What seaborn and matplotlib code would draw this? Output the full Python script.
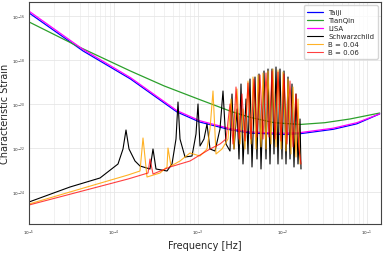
import matplotlib
matplotlib.use('Agg')
import matplotlib.pyplot as plt
import seaborn as sns
import numpy as np

# detector sensitivity curves, log10 values
taiji_logf = [-5.0, -4.36, -3.80, -3.25, -2.98, -2.62, -2.39, -2.0, -1.79, -1.4, -1.12, -0.85]
taiji_logh = [-15.86, -17.59, -18.86, -20.36, -20.82, -21.17, -21.32, -21.38, -21.35, -21.15, -20.9, -20.45]

tianqin_logf = [-5.0, -4.4, -3.80, -3.4, -2.98, -2.6, -2.39, -2.1, -1.79, -1.5, -1.2, -0.85]
tianqin_logh = [-16.27, -17.42, -18.5, -19.18, -19.8, -20.35, -20.6, -20.85, -20.93, -20.85, -20.68, -20.41]

lisa_logf = [-5.0, -4.36, -3.80, -3.25, -2.98, -2.62, -2.39, -2.0, -1.79, -1.4, -1.12, -0.85]
lisa_logh = [-15.78, -17.52, -18.8, -20.3, -20.76, -21.12, -21.27, -21.33, -21.3, -21.1, -20.85, -20.45]

# waveforms, read in pixel units of the reference (x: frequency, y: strain)
schw_x = [29, 70, 100, 118, 123, 126, 129, 135, 140, 150, 153, 156, 167, 172, 176, 178, 180,
          185, 192, 196, 198, 200, 204, 207, 210, 215, 220, 223, 226, 230, 232, 234, 237, 239,
          241, 243, 246, 248, 250, 252, 255, 257, 259, 261, 264, 266, 268, 270, 272, 274, 276,
          278, 280, 282, 284, 286, 288, 290, 292, 294, 296, 298, 300, 301]
schw_y = [203, 188, 179, 165, 150, 131, 150, 162, 167, 170, 150, 170, 172, 165, 140, 103, 140,
          158, 157, 135, 105, 147, 140, 125, 150, 152, 130, 92, 145, 152, 95, 150, 110, 160,
          85, 165, 100, 155, 80, 168, 78, 160, 75, 170, 72, 160, 70, 165, 70, 155, 68,
          165, 70, 160, 72, 165, 78, 160, 85, 168, 95, 165, 120, 170]

b04_x = [29, 128, 140, 143, 147, 160, 167, 168, 171, 180, 190, 200, 207, 210, 213, 216, 222,
         228, 231, 234, 237, 240, 243, 245, 248, 251, 253, 256, 258, 261, 263, 266, 268, 271,
         273, 276, 278, 281, 283, 286, 288, 291, 293, 296, 298, 300]
b04_y = [205, 176, 172, 139, 178, 174, 168, 149, 167, 162, 154, 157, 150, 130, 92, 155, 150,
         140, 100, 150, 90, 145, 110, 150, 82, 145, 78, 150, 76, 148, 74, 150, 72, 145,
         70, 148, 71, 150, 73, 152, 80, 155, 88, 158, 100, 165]

b06_x = [29, 128, 148, 150, 153, 170, 190, 200, 210, 220, 226, 230, 233, 236, 239, 242, 245,
         248, 251, 254, 257, 260, 263, 266, 269, 272, 275, 278, 281, 284, 287, 290, 293, 296,
         299, 301]
b06_y = [206, 180, 174, 160, 175, 168, 162, 156, 150, 145, 140, 105, 145, 88, 140, 95, 142,
         84, 140, 80, 138, 76, 140, 74, 138, 72, 140, 73, 142, 75, 145, 82, 148, 95,
         150, 165]


# pixel -> log10 mapping of the reference axes
def px_to_logf(x):
    return -5.0 + (np.asarray(x) - 29) / 84.5


def px_to_logh(y):
    return -16.0 - (np.asarray(y) - 17) / 22.0


sns.set_theme(style="whitegrid")
plt.rcParams['font.family'] = ['DejaVu Sans']

fig = plt.figure(figsize=(3.85, 2.55), dpi=100)
ax = fig.add_axes([29 / 385, 1 - 225 / 255, 352 / 385, 222 / 255])

series = [
    ("Taiji", taiji_logf, taiji_logh, "blue"),
    ("TianQin", tianqin_logf, tianqin_logh, "tab:green"),
    ("LISA", lisa_logf, lisa_logh, "magenta"),
]
for name, lf, lh, col in series:
    sns.lineplot(x=10 ** np.array(lf), y=10 ** np.array(lh), ax=ax, color=col,
                 linewidth=0.9, label=name, sort=False)

waves = [
    ("Schwarzchild", schw_x, schw_y, "black", 1.0),
    ("B = 0.04", b04_x, b04_y, "orange", 0.85),
    ("B = 0.06", b06_x, b06_y, "red", 0.75),
]
for name, xs, ys, col, a in waves:
    sns.lineplot(x=10 ** px_to_logf(xs), y=10 ** px_to_logh(ys), ax=ax, color=col,
                 alpha=a, linewidth=0.8, label=name, sort=False)

ax.set_xscale('log')
ax.set_yscale('log')
ax.set_xlim(1e-5, 10 ** px_to_logf(381))
ax.set_ylim(10 ** px_to_logh(225), 10 ** px_to_logh(3))
ax.set_yticks([1e-24, 1e-22, 1e-20, 1e-18, 1e-16])
ax.yaxis.set_minor_locator(matplotlib.ticker.NullLocator())
ax.grid(True, which='major', color='#e6e6e6', linewidth=0.6)
ax.grid(True, which='minor', axis='x', color='#ececec', linewidth=0.5)
ax.tick_params(axis='both', which='major', labelsize=3, length=1.5, width=0.4, pad=1)
ax.tick_params(axis='x', which='minor', length=1, width=0.3)
for sp in ax.spines.values():
    sp.set_color('#444444')
    sp.set_linewidth(0.8)
ax.set_xlabel('Frequency [Hz]', fontsize=7, labelpad=2)
ax.set_ylabel('Characteristic Strain', fontsize=7, labelpad=2)
ax.legend(loc='upper right', fontsize=5, frameon=True, handlelength=2.2,
          borderpad=0.5, labelspacing=0.3)

fig.savefig('out.png', dpi=100, facecolor='white')
